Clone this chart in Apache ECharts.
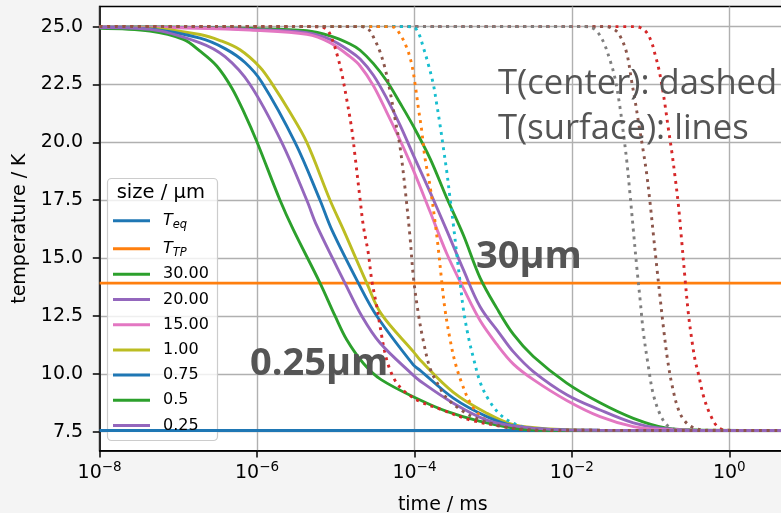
<!DOCTYPE html>
<html>
<head>
<meta charset="utf-8">
<title>particle cooling</title>
<script src="https://cdn.jsdelivr.net/npm/echarts@6.0.0/dist/echarts.min.js"></script>
<style>
html,body{margin:0;padding:0;background:#f4f4f4;}
#main{width:781px;height:513px;}
</style>
</head>
<body>
<div id="main"></div>
<script>
// time in ms, temperature in K
var tEq = 7.55;
var tTP = 13.92;
var tSpan = [1e-8, 10];

// surface (s..) and center (c..) temperature per particle size
var s30 = [[1e-8,24.99],[1.89e-7,24.97],[8.15e-7,24.92],[4.29e-6,24.82],[8.47e-6,24.6],[1.52e-5,24.25],[2.04e-5,23.98],[3.01e-5,23.4],[4.45e-5,22.65],[6.56e-5,21.7],[9.68e-5,20.7],[1.58e-4,19.3],[2.57e-4,17.6],[4.18e-4,16.0],[6.82e-4,14.15],[1.11e-3,12.84],[1.81e-3,11.7],[3.24e-3,10.75],[8.61e-3,9.6],[2.28e-2,8.75],[6.04e-2,8.08],[0.161,7.65],[0.426,7.57],[10,7.55]];
var c30 = [[1e-8,25],[6.35e-2,25],[7.36e-2,24.96],[8.95e-2,24.74],[0.1035,24.3],[0.114,23.8],[0.1256,23.25],[0.1387,22.5],[0.1528,21.6],[0.168,20.6],[0.1858,19.6],[0.2047,18.5],[0.2254,17.3],[0.2489,15.7],[0.274,14.1],[0.302,12.6],[0.333,11.5],[0.367,10.6],[0.405,10.0],[0.469,9.05],[0.57,8.25],[0.728,7.68],[1.03,7.56],[10,7.55]];
var s20 = [[1e-8,24.99],[1.89e-7,24.95],[8.15e-7,24.88],[4.29e-6,24.74],[8.47e-6,24.45],[1.52e-5,23.94],[2.04e-5,23.6],[3.01e-5,22.9],[4.45e-5,21.9],[6.56e-5,20.75],[9.68e-5,19.45],[1.58e-4,17.85],[2.57e-4,16.2],[4.18e-4,14.5],[6.82e-4,12.9],[1.22e-3,11.72],[1.81e-3,10.95],[3.24e-3,10.1],[8.61e-3,9.1],[2.28e-2,8.44],[6.04e-2,7.88],[0.132,7.65],[0.426,7.56],[10,7.55]];
var c20 = [[1e-8,25],[2.64e-2,25],[3.54e-2,24.85],[4.09e-2,24.6],[4.98e-2,23.85],[5.77e-2,22.6],[6.35e-2,21.8],[7.0e-2,20.9],[8.09e-2,19.6],[8.95e-2,18.6],[9.84e-2,17.4],[0.1086,16.0],[0.12,14.6],[0.132,13.3],[0.1456,12.0],[0.1644,10.6],[0.1875,9.5],[0.2234,8.5],[0.266,8.0],[0.337,7.7],[0.493,7.57],[10,7.55]];
var s15 = [[1e-8,24.98],[1.89e-7,24.93],[8.15e-7,24.85],[4.29e-6,24.67],[8.47e-6,24.31],[1.52e-5,23.7],[2.04e-5,23.3],[3.01e-5,22.45],[4.45e-5,21.3],[6.56e-5,20.1],[9.68e-5,18.8],[1.58e-4,17.0],[2.57e-4,15.2],[4.18e-4,13.7],[6.82e-4,12.3],[1.11e-3,11.28],[1.81e-3,10.42],[3.24e-3,9.75],[8.61e-3,8.85],[2.28e-2,8.15],[6.04e-2,7.72],[0.132,7.6],[0.426,7.56],[10,7.55]];
var c15 = [[1e-8,25],[1.47e-2,25],[1.7e-2,24.98],[2.07e-2,24.8],[2.51e-2,24.35],[3.05e-2,23.55],[3.54e-2,22.75],[4.09e-2,21.5],[4.51e-2,20.4],[4.98e-2,19.2],[5.48e-2,17.75],[6.04e-2,16.2],[6.68e-2,14.6],[7.36e-2,13.2],[8.09e-2,11.8],[9.29e-2,10.4],[0.1076,9.15],[0.132,8.25],[0.162,7.78],[0.2047,7.6],[0.317,7.56],[10,7.55]];
var s100 = [[1e-8,24.97],[4.37e-8,24.93],[1.89e-7,24.66],[3.39e-7,24.4],[6.08e-7,24.0],[1.09e-6,23.25],[1.54e-6,22.55],[2.62e-6,21.3],[4.29e-6,20.0],[8.47e-6,17.5],[1.25e-5,16.23],[2.48e-5,13.92],[3.77e-5,12.6],[9.68e-5,10.96],[1.18e-4,10.6],[3.12e-4,9.2],[8.3e-4,8.3],[1.81e-3,7.8],[5.28e-3,7.62],[2.28e-2,7.56],[10,7.55]];
var c100 = [[1e-8,25],[7.6e-5,25],[9.68e-5,24.98],[1.12e-4,24.74],[1.3e-4,24.09],[1.5e-4,23.37],[1.74e-4,22.5],[1.92e-4,21.64],[2.11e-4,20.77],[2.33e-4,19.76],[2.57e-4,18.75],[2.83e-4,17.6],[3.12e-4,16.45],[3.44e-4,15.2],[3.79e-4,14.0],[4.18e-4,12.8],[4.84e-4,11.6],[5.6e-4,10.7],[6.82e-4,9.65],[8.69e-4,8.9],[1.22e-3,8.25],[1.81e-3,7.86],[2.67e-3,7.67],[3.94e-3,7.6],[7.08e-3,7.56],[10,7.55]];
var s075 = [[1e-8,24.97],[4.37e-8,24.9],[1.89e-7,24.5],[3.92e-7,24.05],[7.04e-7,23.45],[1.15e-6,22.6],[3.04e-6,20.0],[6.32e-6,17.5],[8.89e-6,16.23],[1.94e-5,13.92],[3.32e-5,12.5],[9.68e-5,10.39],[1.18e-4,10.15],[3.12e-4,8.95],[8.3e-4,8.15],[1.81e-3,7.75],[5.28e-3,7.6],[2.28e-2,7.56],[10,7.55]];
var c075 = [[1e-8,25],[4.23e-5,25],[5.4e-5,24.98],[6.56e-5,24.67],[7.98e-5,24.09],[9.24e-5,23.37],[1.02e-4,22.5],[1.12e-4,21.5],[1.24e-4,20.48],[1.36e-4,19.33],[1.58e-4,18.1],[1.83e-4,16.55],[2.01e-4,15.4],[2.22e-4,14.0],[2.45e-4,12.75],[2.83e-4,11.5],[3.28e-4,10.5],[3.99e-4,9.6],[5.09e-4,8.75],[6.82e-4,8.2],[1.01e-3,7.86],[1.49e-3,7.72],[2.2e-3,7.65],[3.94e-3,7.58],[7.08e-3,7.56],[10,7.55]];
var s050 = [[1e-8,24.93],[4.37e-8,24.81],[1.16e-7,24.45],[1.89e-7,23.94],[3.08e-7,23.3],[4.78e-7,22.35],[7.04e-7,21.2],[9.9e-7,20.05],[1.96e-6,17.5],[2.89e-6,16.23],[6.32e-6,13.92],[9.8e-6,12.5],[1.38e-5,11.47],[2.24e-5,10.46],[3.77e-5,9.75],[1.18e-4,8.87],[2.57e-4,8.38],[6.82e-4,7.95],[2.2e-3,7.62],[7.08e-3,7.56],[10,7.55]];
var c050 = [[1e-8,25],[4.71e-6,25],[6.95e-6,24.96],[8.05e-6,24.81],[9.33e-6,24.31],[1.08e-5,23.59],[1.19e-5,23.0],[1.38e-5,21.85],[1.6e-5,20.56],[1.76e-5,19.4],[2.04e-5,17.53],[2.24e-5,16.4],[2.59e-5,15.22],[2.86e-5,14.07],[3.32e-5,12.91],[3.66e-5,12.04],[4.23e-5,10.89],[4.9e-5,10.17],[5.96e-5,9.6],[7.98e-5,9.16],[1.18e-4,8.8],[2.11e-4,8.48],[5.09e-4,8.01],[1.35e-3,7.72],[2.94e-3,7.57],[10,7.55]];
var s025 = [[1e-8,24.96],[4.37e-8,24.88],[1.89e-7,24.3],[3.92e-7,23.7],[8.15e-7,22.5],[2.06e-6,20.0],[4.29e-6,17.5],[5.74e-6,16.4],[1.31e-5,13.92],[2.14e-5,12.5],[3.66e-5,11.33],[9.24e-5,10.0],[1.18e-4,9.69],[3.12e-4,8.73],[8.3e-4,8.0],[1.81e-3,7.75],[5.28e-3,7.6],[2.28e-2,7.56],[10,7.55]];
var c025 = [[1e-8,25],[2.04e-5,25],[2.59e-5,24.9],[3.16e-5,24.4],[3.66e-5,23.9],[4.23e-5,23.2],[4.9e-5,22.2],[5.68e-5,21.0],[6.56e-5,19.8],[7.6e-5,18.0],[8.79e-5,15.9],[9.68e-5,14.2],[1.12e-4,12.6],[1.3e-4,11.4],[1.58e-4,10.24],[2.01e-4,9.52],[2.57e-4,8.95],[4.18e-4,8.37],[6.82e-4,8.01],[1.11e-3,7.79],[1.81e-3,7.65],[3.94e-3,7.57],[10,7.55]];

var sizes = ['30.00','20.00','15.00','1.00','0.75','0.5','0.25'];
var surf = [s30, s20, s15, s100, s075, s050, s025];
var cent = [c30, c20, c15, c100, c075, c050, c025];
var xTicks = [1e-8, 1e-6, 1e-4, 1e-2, 1];
var yTicks = [7.5, 10, 12.5, 15, 17.5, 20, 22.5, 25];
var colors = ['#1f77b4','#ff7f0e','#2ca02c','#d62728','#9467bd','#8c564b','#e377c2','#7f7f7f','#bcbd22','#17becf'];

var font = 'DejaVu Sans';

function mkLine(name, data, color, dotted){
    return {
        name: name,
        type: 'line',
        data: data,
        symbol: 'none',
        showSymbol: false,
        smooth: 0.35,
        silent: true,
        itemStyle: {color: color},
        lineStyle: {color: color, width: 2.9, type: dotted ? [2.9, 4.8] : 'solid', cap: 'butt', join: 'round'}
    };
}

var series = [];
series.push(mkLine('Teq', [[tSpan[0], tEq], [tSpan[1], tEq]], colors[0], false));
series.push(mkLine('TTP', [[tSpan[0], tTP], [tSpan[1], tTP]], colors[1], false));
var ci = 2;
for (var i = 0; i < sizes.length; i++) {
    series.push(mkLine(sizes[i], surf[i], colors[ci % 10], false));
    ci++;
    series.push(mkLine(sizes[i] + ' center', cent[i], colors[ci % 10], true));
    ci++;
}

var tickFont = {fontSize: 19, fontFamily: font, color: '#000'};

var option = {
    animation: false,
    backgroundColor: '#f4f4f4',
    grid: {
        left: 99.6, top: 6.5, right: -5, bottom: 62.3,
        show: true, backgroundColor: '#ffffff', borderColor: '#000', borderWidth: 1.5,
        outerBoundsMode: 'none'
    },
    xAxis: {
        type: 'log',
        logBase: 10,
        min: 1e-8,
        max: 5.25,
        name: 'time / ms',
        nameLocation: 'middle',
        nameGap: 45,
        nameTextStyle: tickFont,
        axisLine: {show: true, lineStyle: {color: '#000', width: 1.5}},
        axisTick: {show: true, length: 6.8, customValues: xTicks, lineStyle: {color: '#000', width: 1.5}},
        minorTick: {show: false},
        axisLabel: {
            customValues: xTicks,
            margin: 10,
            fontSize: 19, fontFamily: font, color: '#000',
            formatter: function(v){
                var e = Math.round(Math.log(v) / Math.LN10);
                return '10{sup|' + (e < 0 ? '\u2212' + (-e) : e) + '}';
            },
            rich: {sup: {fontSize: 13.5, fontFamily: font, color: '#000', padding: [0, 0, 10, 0]}}
        },
        splitLine: {show: true, lineStyle: {color: '#b0b0b0', width: 1.4}}
    },
    yAxis: {
        type: 'value',
        min: 6.68,
        max: 25.87,
        name: 'temperature / K',
        nameLocation: 'middle',
        nameGap: 70,
        nameTextStyle: tickFont,
        axisLine: {show: true, lineStyle: {color: '#000', width: 1.5}},
        axisTick: {show: true, length: 6.8, customValues: yTicks, lineStyle: {color: '#000', width: 1.5}},
        axisLabel: {
            customValues: yTicks,
            margin: 16.5,
            fontSize: 19, fontFamily: font, color: '#000',
            formatter: function(v){ return v.toFixed(1); }
        },
        splitLine: {show: true, lineStyle: {color: '#b0b0b0', width: 1.4}}
    },
    legend: [
        {
            data: ['Teq', 'TTP'],
            orient: 'vertical', left: 113, top: 206.7, padding: 0, itemGap: 0,
            icon: 'rect', itemWidth: 37, itemHeight: 3, selectedMode: false,
            formatter: function(n){ return n == 'Teq' ? '{i|T}{s|eq}' : '{i|T}{s|TP}'; },
            textStyle: {
                fontSize: 16, fontFamily: font, color: '#000', lineHeight: 28, padding: [0, 0, 0, 8],
                rich: {
                    i: {fontSize: 16, fontStyle: 'italic', fontFamily: font, color: '#000', lineHeight: 28},
                    s: {fontSize: 11.5, fontStyle: 'italic', fontFamily: font, color: '#000', lineHeight: 28, padding: [8, 0, 0, 0]}
                }
            }
        },
        {
            data: sizes,
            orient: 'vertical', left: 113, top: 261.7, padding: 0, itemGap: 0,
            icon: 'rect', itemWidth: 37, itemHeight: 3, selectedMode: false,
            textStyle: {fontSize: 16, fontFamily: font, color: '#000', lineHeight: 25.2, padding: [0, 0, 0, 8]}
        }
    ],
    graphic: [
        {type: 'rect', z: 3, shape: {x: 107.5, y: 178.5, width: 110, height: 262, r: 4},
            style: {fill: 'rgba(255,255,255,0.8)', stroke: '#cccccc', lineWidth: 1.2}},
        {type: 'text', z: 5, x: 116.7, y: 193.3,
            style: {text: 'size / \u00b5m', font: '19.5px "DejaVu Sans"', fill: '#000', verticalAlign: 'middle'}},
        {type: 'text', z: 5, x: 498, y: 84,
            style: {text: 'T(center): dashed', font: '34.6px "Open Sans"', fill: '#555', verticalAlign: 'middle'}},
        {type: 'text', z: 5, x: 498, y: 129,
            style: {text: 'T(surface): lines', font: '34.6px "Open Sans"', fill: '#555', verticalAlign: 'middle'}},
        {type: 'text', z: 5, x: 476, y: 257,
            style: {text: '30\u00b5m', font: 'bold 38px "Open Sans"', fill: '#555', verticalAlign: 'middle'}},
        {type: 'text', z: 5, x: 250, y: 364,
            style: {text: '0.25\u00b5m', font: 'bold 38px "Open Sans"', fill: '#555', verticalAlign: 'middle'}}
    ],
    series: series
};

var myChart = echarts.init(document.getElementById('main'));
myChart.setOption(option, true);
</script>
</body>
</html>
